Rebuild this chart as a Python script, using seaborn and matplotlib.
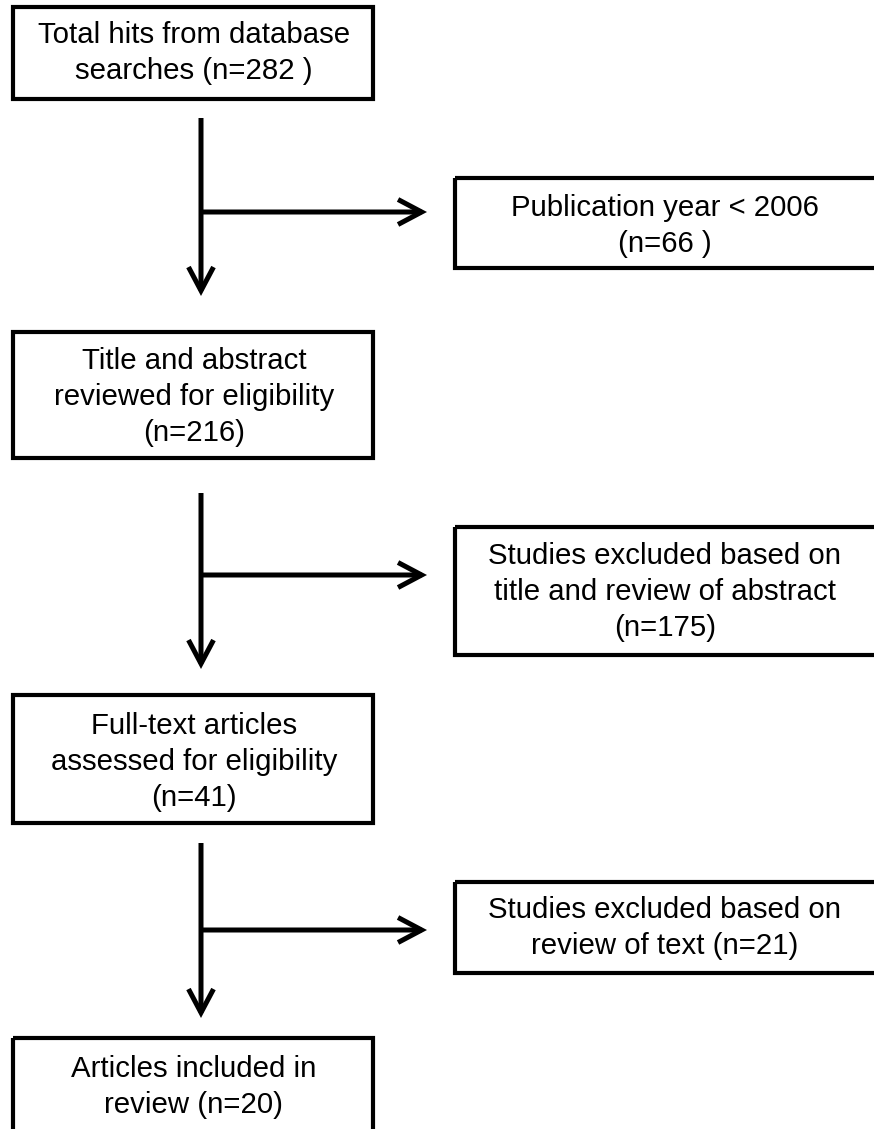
import matplotlib.pyplot as plt
import matplotlib.patches as patches
import seaborn as sns

# --- Flowchart content ---
STAGE_LABELS = [
    "Total hits from database\nsearches (n={} )",
    "Title and abstract\nreviewed for eligibility\n(n={})",
    "Full-text articles\nassessed for eligibility\n(n={})",
    "Articles included in\nreview (n={})",
]
STAGE_COUNTS = [282, 216, 41, 20]

EXCLUDED_LABELS = [
    "Publication year < 2006\n(n={} )",
    "Studies excluded based on\ntitle and review of abstract\n(n={})",
    "Studies excluded based on\nreview of text (n={})",
]
EXCLUDED_COUNTS = [66, 175, 21]

# --- Layout (pixel coordinates, y downwards) ---
W, H = 874, 1129
LEFT_X0, LEFT_X1 = 13, 373
RIGHT_X0, RIGHT_X1 = 455, 890
LEFT_TEXT_X, RIGHT_TEXT_X = 194, 665
STAGE_Y = [(7, 99), (332, 458), (695, 823), (1038, 1140)]
STAGE_TEXT_Y = [53, 397, 762, 1087]
EXCL_Y = [(178, 268), (527, 655), (882, 973)]
EXCL_TEXT_Y = [226, 592, 928]
TRUNK_X = 201
ARROW_Y = [(118, 296), (493, 669), (843, 1018)]
BRANCH_Y = [212, 575, 930]
BRANCH_END = 427

BOX_LW = 3.0
ARROW_LW = 3.6
FS = 21.2

sns.set_theme(style="white")
plt.rcParams['font.family'] = ['Liberation Sans', 'DejaVu Sans']

fig = plt.figure(figsize=(W / 100, H / 100), dpi=100)
ax = fig.add_axes([0, 0, 1, 1])
ax.set_xlim(0, W)
ax.set_ylim(H, 0)
ax.axis('off')


def draw_box(x0, x1, y0, y1, tx, ty, text):
    ax.add_patch(patches.Rectangle((x0, y0), x1 - x0, y1 - y0, fill=False,
                                   edgecolor='black', linewidth=BOX_LW))
    ax.text(tx, ty, text, ha='center', va='center', fontsize=FS,
            color='black', linespacing=1.36)


for (y0, y1), ty, lab, n in zip(STAGE_Y, STAGE_TEXT_Y, STAGE_LABELS, STAGE_COUNTS):
    draw_box(LEFT_X0, LEFT_X1, y0, y1, LEFT_TEXT_X, ty, lab.format(n))

for (y0, y1), ty, lab, n in zip(EXCL_Y, EXCL_TEXT_Y, EXCLUDED_LABELS, EXCLUDED_COUNTS):
    draw_box(RIGHT_X0, RIGHT_X1, y0, y1, RIGHT_TEXT_X, ty, lab.format(n))

arrow_kw = dict(arrowstyle='->,head_length=0.85,head_width=0.45',
                color='black', lw=ARROW_LW, mutation_scale=20,
                shrinkA=0, shrinkB=0, capstyle='butt', joinstyle='miter')

for (ys, ye), yb in zip(ARROW_Y, BRANCH_Y):
    ax.annotate('', xy=(TRUNK_X, ye), xytext=(TRUNK_X, ys), arrowprops=arrow_kw)
    ax.annotate('', xy=(BRANCH_END, yb), xytext=(TRUNK_X, yb), arrowprops=arrow_kw)

fig.savefig('out.png', dpi=100, facecolor='white')
plt.close(fig)
